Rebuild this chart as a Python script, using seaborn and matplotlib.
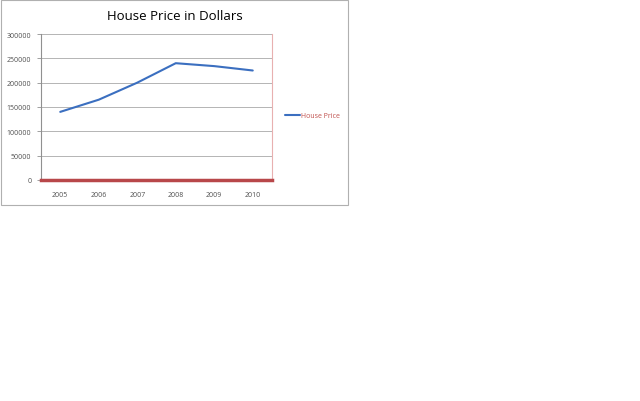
import pandas as pd
import matplotlib.pyplot as plt
import seaborn as sns
from matplotlib.patches import Rectangle

years = ['2005', '2006', '2007', '2008', '2009', '2010']
prices = [140000, 165000, 200000, 240000, 234000, 225000]
yticks = [0, 50000, 100000, 150000, 200000, 250000, 300000]

df = pd.DataFrame({'Year': years, 'House Price': prices})

sns.set_style('white')
plt.rcParams['font.family'] = ['Open Sans', 'DejaVu Sans']

fig = plt.figure(figsize=(6.4, 4.02), dpi=100)
ax = fig.add_axes([41 / 640, 1 - 181 / 402, 231 / 640, 146 / 402])

# outer chart border
fig.patches.append(Rectangle((1 / 640, 1 - 206 / 402), 347 / 640, 205 / 402,
                             transform=fig.transFigure, fill=False,
                             edgecolor='#b0b0b0', lw=0.8))

sns.lineplot(data=df, x='Year', y='House Price', color='#3b6fc0', lw=1.5,
             ax=ax, label='House Price', legend=False)

ax.set_xlim(-0.5, 5.5)
ax.set_ylim(0, 300000)
ax.set_yticks(yticks)
ax.set_yticklabels([str(v) for v in yticks], fontsize=5, color='#505050')
ax.tick_params(axis='x', labelsize=5, colors='#505050', length=0, pad=8)
ax.tick_params(axis='y', length=3, width=0.6, color='#909090', pad=4, left=True)
ax.set_xlabel('')
ax.set_ylabel('')
ax.grid(axis='y', color='#b4b4b4', lw=0.7)
ax.set_axisbelow(True)

ax.spines['left'].set_color('#909090')
ax.spines['left'].set_linewidth(0.8)
ax.spines['top'].set_visible(False)
ax.spines['right'].set_color('#e8b0b0')
ax.spines['right'].set_linewidth(0.8)
ax.spines['bottom'].set_color('#b8474a')
ax.spines['bottom'].set_linewidth(2.5)

fig.text(175 / 640, 1 - 17 / 402, 'House Price in Dollars', ha='center', va='center',
         fontsize=9.5, color='black')

# legend
fig.lines.append(plt.Line2D([285 / 640, 300 / 640], [1 - 116 / 402, 1 - 116 / 402],
                            transform=fig.transFigure, color='#3b6fc0', lw=1.5))
fig.text(301 / 640, 1 - 116 / 402, 'House Price', ha='left', va='center',
         fontsize=5, color='#c0504d')

fig.savefig('out.png', dpi=100)
